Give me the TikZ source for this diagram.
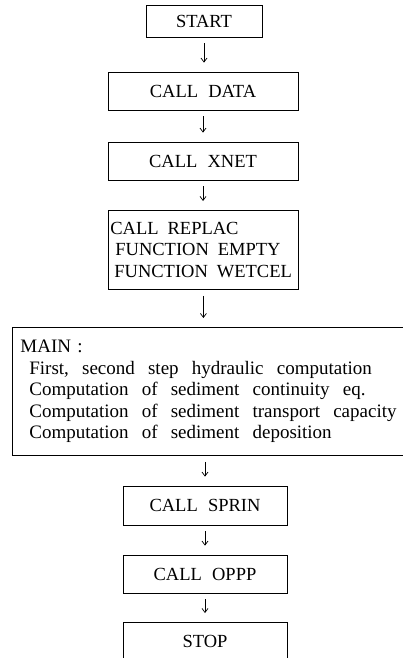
\documentclass[tikz,border=0pt]{standalone}
\usepackage{fontspec}
\setmainfont{Liberation Serif}
\usetikzlibrary{arrows.meta}
\newcommand{\wsp}{\hspace{0.36em} }
\begin{document}
\begin{tikzpicture}[x=1pt,y=1pt,
  every node/.style={font=\fontsize{18.5}{21.5}\selectfont},
  box/.style={draw, line width=0.8pt, inner sep=0pt, minimum height=38pt},
  arr/.style={-{Straight Barb[length=4pt,width=6pt]}, line width=0.7pt, shorten <=6pt, shorten >=9pt}]
\useasboundingbox (0,0) rectangle (402,-658);
\node[box, minimum width=116pt, minimum height=32pt] (start) at (204,-21) {START};
\node[box, minimum width=190pt] (data) at (203,-91) {CALL\hspace{0.3em} DATA};
\node[box, minimum width=190pt] (xnet) at (203,-161) {CALL\hspace{0.3em} XNET};
\node[box, anchor=north west, minimum width=190pt, minimum height=79pt, text width=186pt, inner xsep=2pt, align=left] (repl) at (108,-210)
  {CALL\hspace{0.15em} REPLAC\\\hspace*{5pt}FUNCTION\hspace{0.15em} EMPTY\\\hspace*{4pt}FUNCTION\hspace{0.15em} WETCEL};
\node[box, anchor=north west, minimum width=400pt, minimum height=128pt, text width=384pt, inner xsep=8pt, align=left, font=\fontsize{19}{21.5}\selectfont] (main) at (12,-327)
  {MAIN :\\
   \hspace*{9pt}First,\wsp second\wsp step\wsp hydraulic\wsp computation\\
   \hspace*{9pt}Computation\wsp of\wsp sediment\wsp continuity\wsp eq.\\
   \hspace*{9pt}Computation\wsp of\wsp sediment\wsp transport\wsp capacity\\
   \hspace*{9pt}Computation\wsp of\wsp sediment\wsp deposition};
\node[box, minimum width=164pt, minimum height=39pt] (sprin) at (205,-505.5) {CALL\hspace{0.3em} SPRIN};
\node[box, minimum width=164pt] (oppp) at (205,-574) {CALL\hspace{0.3em} OPPP};
\node[box, anchor=north, minimum width=164pt] (stop) at (205,-622) {STOP};
\draw[arr] (start.south) -- (start.south |- data.north);
\draw[arr] (data) -- (xnet);
\draw[arr] (xnet) -- (xnet |- repl.north);
\draw[arr] (repl.south) -- (repl.south |- main.north);
\draw[arr] (main.south -| sprin.north) -- (sprin.north);
\draw[arr] (sprin) -- (oppp);
\draw[arr] (oppp) -- (stop);
\end{tikzpicture}
\end{document}
